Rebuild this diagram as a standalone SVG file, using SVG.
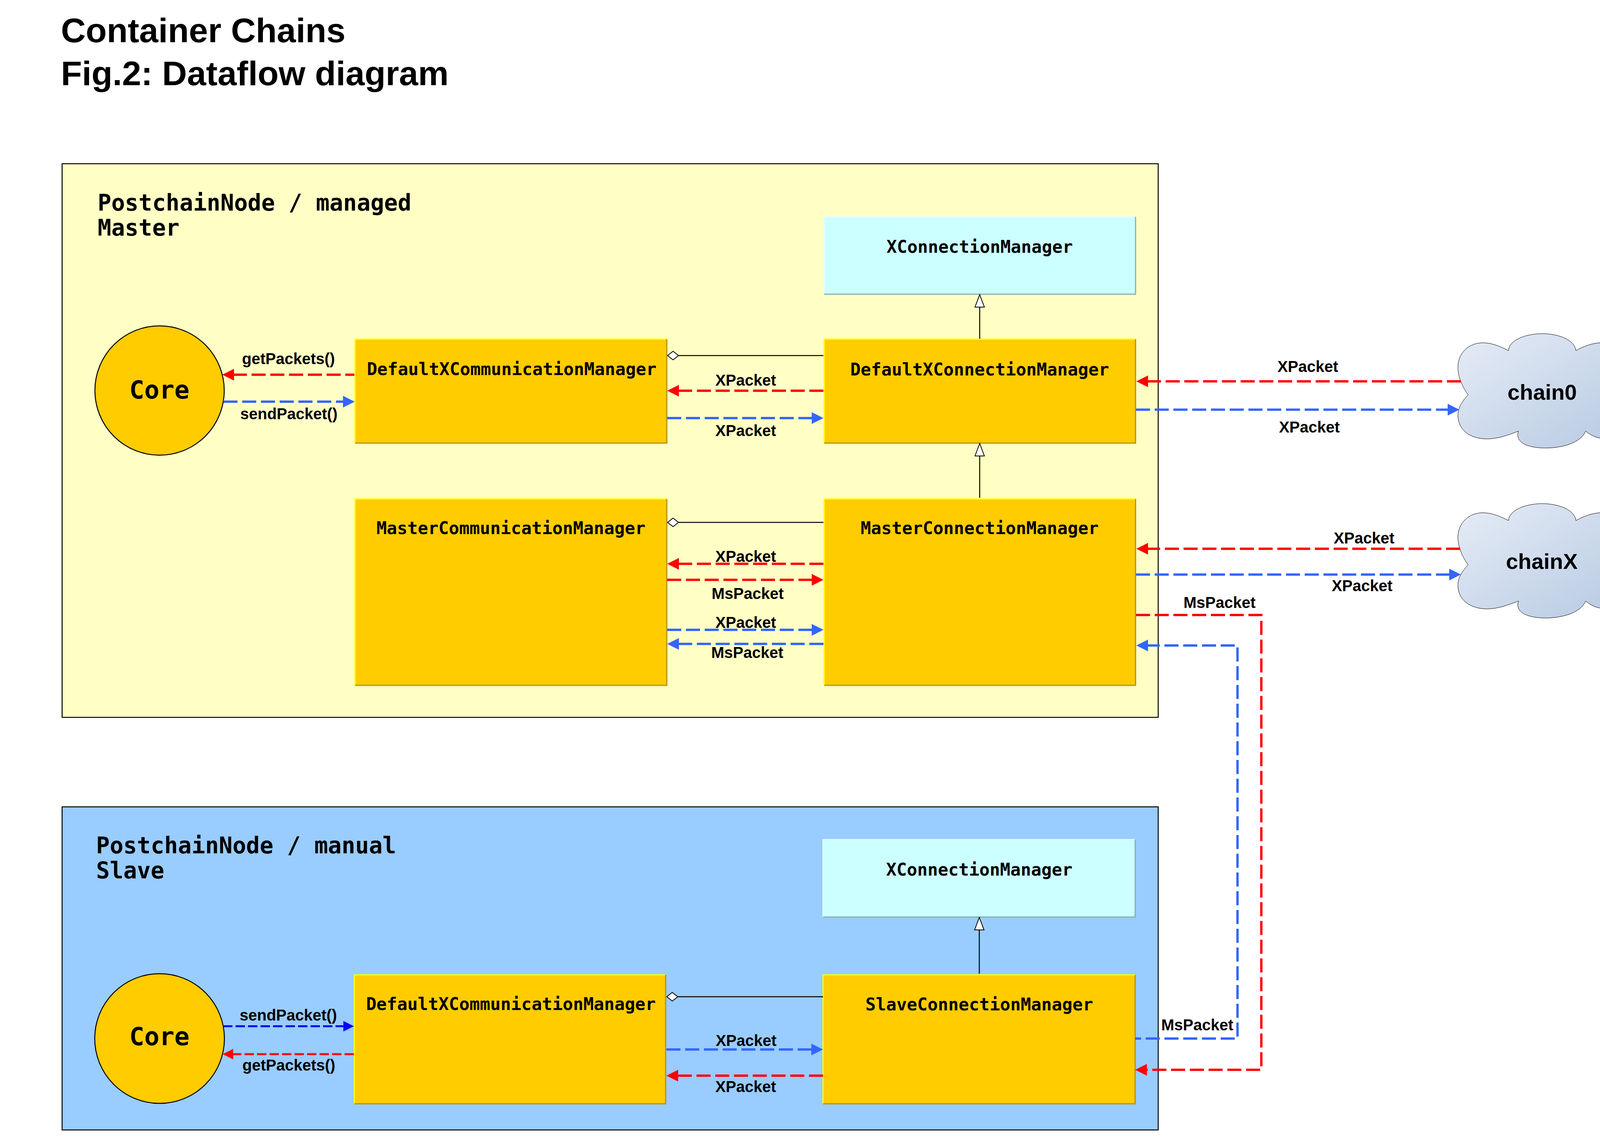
<svg xmlns="http://www.w3.org/2000/svg" width="4218" height="2910" viewBox="0 0 4218 2910">
<style>
text{font-family:"Liberation Sans",Arial,sans-serif;font-weight:700;fill:#000}
.t{font-size:88px}
.m{font-family:"DejaVu Sans Mono","Liberation Mono",monospace}
.h{font-size:58px}
.n{font-size:44px;text-anchor:middle}
.c{font-size:64px;text-anchor:middle}
.l{font-size:40px;text-anchor:middle}
.k{font-size:56px;text-anchor:middle}
.frame{stroke:#000;stroke-width:2.5}
.box{fill:#FFCC00}
.lite{fill:none;stroke:#FFFF00;stroke-width:3}
.dark{fill:none;stroke:#B89200;stroke-width:3}
.xbox{fill:#CCFFFF}
.xlite{fill:none;stroke:#E4FFFF;stroke-width:3}
.xdark{fill:none;stroke:#88B0B0;stroke-width:3}
.core{fill:#FFCC00;stroke:#000;stroke-width:2.5}
.cloud{fill:url(#cg);stroke:#000;stroke-width:3}
.w{fill:none;stroke-width:6;stroke-dasharray:36 12}
.r{stroke:#FF0000;marker-end:url(#ar)}
.b{stroke:#3366FF;marker-end:url(#ab)}
.thin{fill:none;stroke-width:5;stroke-dasharray:24 8}
.s{fill:none;stroke:#000;stroke-width:2.5}
</style>
<defs>
<linearGradient id="cg" x1="0" y1="0" x2="1" y2="1"><stop offset="0" stop-color="#E6ECF6"/><stop offset="1" stop-color="#B6C9E2"/></linearGradient>
<marker id="ar" markerUnits="userSpaceOnUse" markerWidth="32" markerHeight="32" refX="0" refY="15" orient="auto"><path d="M0,0L30,15L0,30Z" fill="#FF0000"/></marker>
<marker id="ab" markerUnits="userSpaceOnUse" markerWidth="32" markerHeight="32" refX="0" refY="15" orient="auto"><path d="M0,0L30,15L0,30Z" fill="#3366FF"/></marker>
<marker id="an" markerUnits="userSpaceOnUse" markerWidth="30" markerHeight="30" refX="0" refY="13.500" orient="auto"><path d="M0,0L27,13.500L0,27Z" fill="#0000FF"/></marker>
<marker id="ar2" markerUnits="userSpaceOnUse" markerWidth="30" markerHeight="30" refX="0" refY="13.500" orient="auto"><path d="M0,0L27,13.500L0,27Z" fill="#FF0000"/></marker>
<marker id="tri" markerUnits="userSpaceOnUse" markerWidth="40" markerHeight="30" refX="1" refY="13" orient="auto"><path d="M1,1L33,13L1,25Z" fill="#fff" stroke="#000" stroke-width="2"/></marker>
<marker id="dia" markerUnits="userSpaceOnUse" markerWidth="34" markerHeight="26" refX="1" refY="12" orient="auto"><path d="M1,12L15,1L29,12L15,23Z" fill="#fff" stroke="#000" stroke-width="2"/></marker>
<path id="cloudshape" transform="translate(3700,830) scale(0.33333)" d="M485,202C490,120 620,72 745,72C870,72 995,120 1003,202C1060,170 1130,142 1200,142C1310,142 1392,215 1392,310C1392,375 1360,430 1315,480C1360,545 1395,620 1395,700C1395,800 1320,878 1230,878C1170,878 1120,855 1078,820C1040,910 900,950 770,950C650,950 530,915 562,820C470,855 400,880 320,880C190,880 97,810 97,700C97,640 130,590 175,542C125,470 97,400 97,330C97,220 180,142 290,142C360,142 425,172 485,202Z"/>
</defs>
<rect width="4218" height="2910" fill="#fff"/>
<g id="title"><text class="t" x="156" y="108">Container Chains</text><text class="t" x="156" y="218">Fig.2: Dataflow diagram</text></g>

<g id="master-frame"><rect class="frame" x="159" y="419" width="2806" height="1417" fill="#FFFFC5"/>
<text class="m h" x="250" y="539">PostchainNode / managed</text><text class="m h" x="250" y="603">Master</text></g>
<g id="slave-frame"><rect class="frame" x="159" y="2065" width="2806" height="827" fill="#99CCFF"/>
<text class="m h" x="246" y="2184">PostchainNode / manual</text><text class="m h" x="246" y="2248">Slave</text></g>

<g id="core-master"><circle class="core" cx="408.500" cy="999.500" r="165.500"/><text class="m c" x="408" y="1020">Core</text></g>
<g id="comm-default-master"><rect class="box" x="909" y="868" width="798" height="266"/><path class="lite" d="M909,1134V868H1707"/><path class="dark" d="M909,1134H1707V868"/><text class="m n" x="1310" y="960">DefaultXCommunicationManager</text></g>
<g id="comm-master"><rect class="box" x="909" y="1277" width="798" height="477"/><path class="lite" d="M909,1754V1277H1707"/><path class="dark" d="M909,1754H1707V1277"/><text class="m n" x="1308" y="1367">MasterCommunicationManager</text></g>
<g id="xconn-master"><rect class="xbox" x="2110" y="555" width="797" height="198"/><path class="xlite" d="M2110,753V555H2907"/><path class="xdark" d="M2110,753H2907V555"/><text class="m n" x="2508" y="647">XConnectionManager</text></g>
<g id="conn-default"><rect class="box" x="2110" y="868" width="797" height="266"/><path class="lite" d="M2110,1134V868H2907"/><path class="dark" d="M2110,1134H2907V868"/><text class="m n" x="2508" y="961">DefaultXConnectionManager</text></g>
<g id="conn-master"><rect class="box" x="2110" y="1277" width="797" height="477"/><path class="lite" d="M2110,1754V1277H2907"/><path class="dark" d="M2110,1754H2907V1277"/><text class="m n" x="2508" y="1367">MasterConnectionManager</text></g>

<g id="core-slave"><circle class="core" cx="408.500" cy="2658" r="166"/><text class="m c" x="408" y="2675">Core</text></g>
<g id="comm-default-slave"><rect class="box" x="907" y="2495" width="797" height="330"/><path class="lite" d="M907,2825V2495H1704"/><path class="dark" d="M907,2825H1704V2495"/><text class="m n" x="1308" y="2585">DefaultXCommunicationManager</text></g>
<g id="xconn-slave"><rect class="xbox" x="2107" y="2149" width="799" height="198"/><path class="xlite" d="M2107,2347V2149H2906"/><path class="xdark" d="M2107,2347H2906V2149"/><text class="m n" x="2507" y="2241">XConnectionManager</text></g>
<g id="conn-slave"><rect class="box" x="2107" y="2495" width="799" height="330"/><path class="lite" d="M2107,2825V2495H2906"/><path class="dark" d="M2107,2825H2906V2495"/><text class="m n" x="2507" y="2586">SlaveConnectionManager</text></g>

<g id="chain0"><use href="#cloudshape" class="cloud"/><text class="k" x="3948" y="1023">chain0</text></g>
<g id="chainX"><g transform="translate(0,435)"><use href="#cloudshape" class="cloud"/></g><text class="k" x="3947" y="1456">chainX</text></g>

<g id="connectors">
<path class="s" marker-end="url(#tri)" d="M2508,867V786"/>
<path class="s" marker-end="url(#tri)" d="M2508,1274V1167"/>
<path class="s" marker-end="url(#tri)" d="M2507,2492V2380"/>
<path class="s" marker-end="url(#dia)" d="M2108,910H1737"/>
<path class="s" marker-end="url(#dia)" d="M2108,1337H1737"/>
<path class="s" marker-end="url(#dia)" d="M2107,2551H1735"/>

<path class="w r" style="stroke-dashoffset:13" d="M907,959H599"/>
<path class="w b" d="M572,1028H878"/>
<path class="w r" d="M2108,1000H1738"/>
<path class="w b" d="M1708,1070H2078"/>
<path class="w r" d="M2108,1443H1738"/>
<path class="w r" d="M1708,1484H2078"/>
<path class="w b" d="M1708,1612H2078"/>
<path class="w b" d="M2108,1648H1738"/>
<path class="w r" d="M3740,976H2939"/>
<path class="w b" d="M2908,1048.500H3706"/>
<path class="w r" d="M3738,1404.500H2939"/>
<path class="w b" d="M2908,1470.500H3710"/>
<path class="w r" d="M2908,1574H3229V2738H2936"/>
<path class="w b" style="stroke-dashoffset:21" d="M2906,2658H3168V1652H2939"/>
<path class="thin" style="stroke:#0000FF;marker-end:url(#an)" d="M571,2626.500H879"/>
<path class="thin" style="stroke:#FF0000;marker-end:url(#ar2)" d="M906,2698H597"/>
<path class="w b" d="M1706,2686H2077"/>
<path class="w r" d="M2107,2753H1736"/>
</g>

<g id="labels">
<text class="l" x="738.500" y="932">getPackets()</text>
<text class="l" x="739.500" y="1073">sendPacket()</text>
<text class="l" x="1909" y="987">XPacket</text>
<text class="l" x="1909" y="1116">XPacket</text>
<text class="l" x="1909" y="1438">XPacket</text>
<text class="l" x="1914" y="1533">MsPacket</text>
<text class="l" x="1909" y="1607">XPacket</text>
<text class="l" x="1913" y="1684">MsPacket</text>
<text class="l" x="3348" y="952">XPacket</text>
<text class="l" x="3352" y="1107">XPacket</text>
<text class="l" x="3492" y="1391">XPacket</text>
<text class="l" x="3487" y="1513">XPacket</text>
<text class="l" x="3122" y="1556">MsPacket</text>
<text class="l" x="3065" y="2637">MsPacket</text>
<text class="l" x="738" y="2612">sendPacket()</text>
<text class="l" x="739.500" y="2740">getPackets()</text>
<text class="l" x="1910" y="2677">XPacket</text>
<text class="l" x="1909" y="2795">XPacket</text>
</g>
</svg>
